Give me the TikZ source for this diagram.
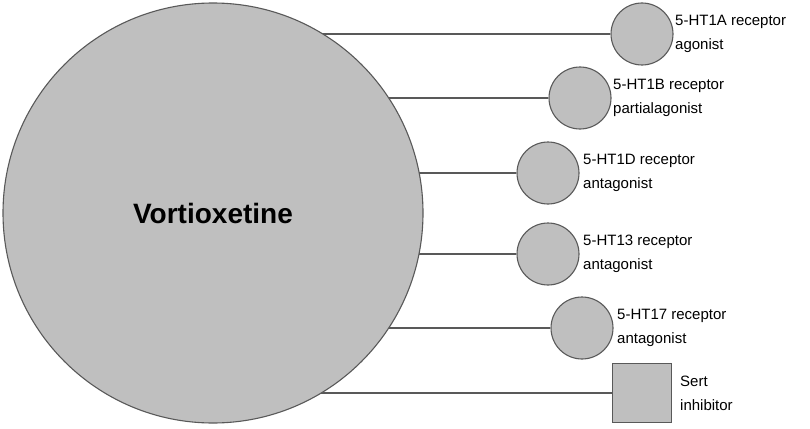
\documentclass[tikz,border=0pt]{standalone}
\usepackage{fontspec}
\setmainfont{Liberation Sans}
\usetikzlibrary{positioning,backgrounds}

\begin{document}
\begin{tikzpicture}[x=1pt,y=-1pt,
bignode/.style={circle, draw=black!65, fill=black!25, line width=1.1pt, minimum size=420pt, inner sep=0pt},
recnode/.style={circle, draw=black!65, fill=black!25, line width=1.1pt, minimum size=62pt, inner sep=0pt},
boxnode/.style={rectangle, draw=black!65, fill=black!25, line width=1.1pt, minimum size=59pt, inner sep=0pt},
labnode/.style={align=left, font=\fontsize{15}{24}\selectfont, anchor=west, inner sep=0pt},
link/.style={line width=1.1pt, black!65},
]
\useasboundingbox (0,0) rectangle (810,428);
%Nodes
\node[bignode](vort) at (213,213){\fontsize{28}{30}\selectfont\bfseries Vortioxetine};

\node[recnode](r1a) at (642,34){};
\node[recnode](r1b) at (580,98){};
\node[recnode](r1d) at (548,173){};
\node[recnode](r13) at (548,254){};
\node[recnode](r17) at (582,328){};
\node[boxnode](sert) at (642,393){};

\node[labnode] at (675,34){5-HT1A receptor\\agonist};
\node[labnode] at (613,98){5-HT1B receptor\\partialagonist};
\node[labnode] at (583,173){5-HT1D receptor\\ antagonist};
\node[labnode] at (583,254){5-HT13 receptor\\antagonist};
\node[labnode] at (617,328){5-HT17 receptor\\antagonist};
\node[labnode] at (680,393){Sert\\inhibitor};

%Lines
\begin{scope}[on background layer]
\draw[link] (vort.center |- r1a) -- (r1a.west);
\draw[link] (vort.center |- r1b) -- (r1b.west);
\draw[link] (vort.center |- r1d) -- (r1d.west);
\draw[link] (vort.center |- r13) -- (r13.west);
\draw[link] (vort.center |- r17) -- (r17.west);
\draw[link] (vort.center |- sert) -- (sert.west);
\end{scope}
\end{tikzpicture}
\end{document}
